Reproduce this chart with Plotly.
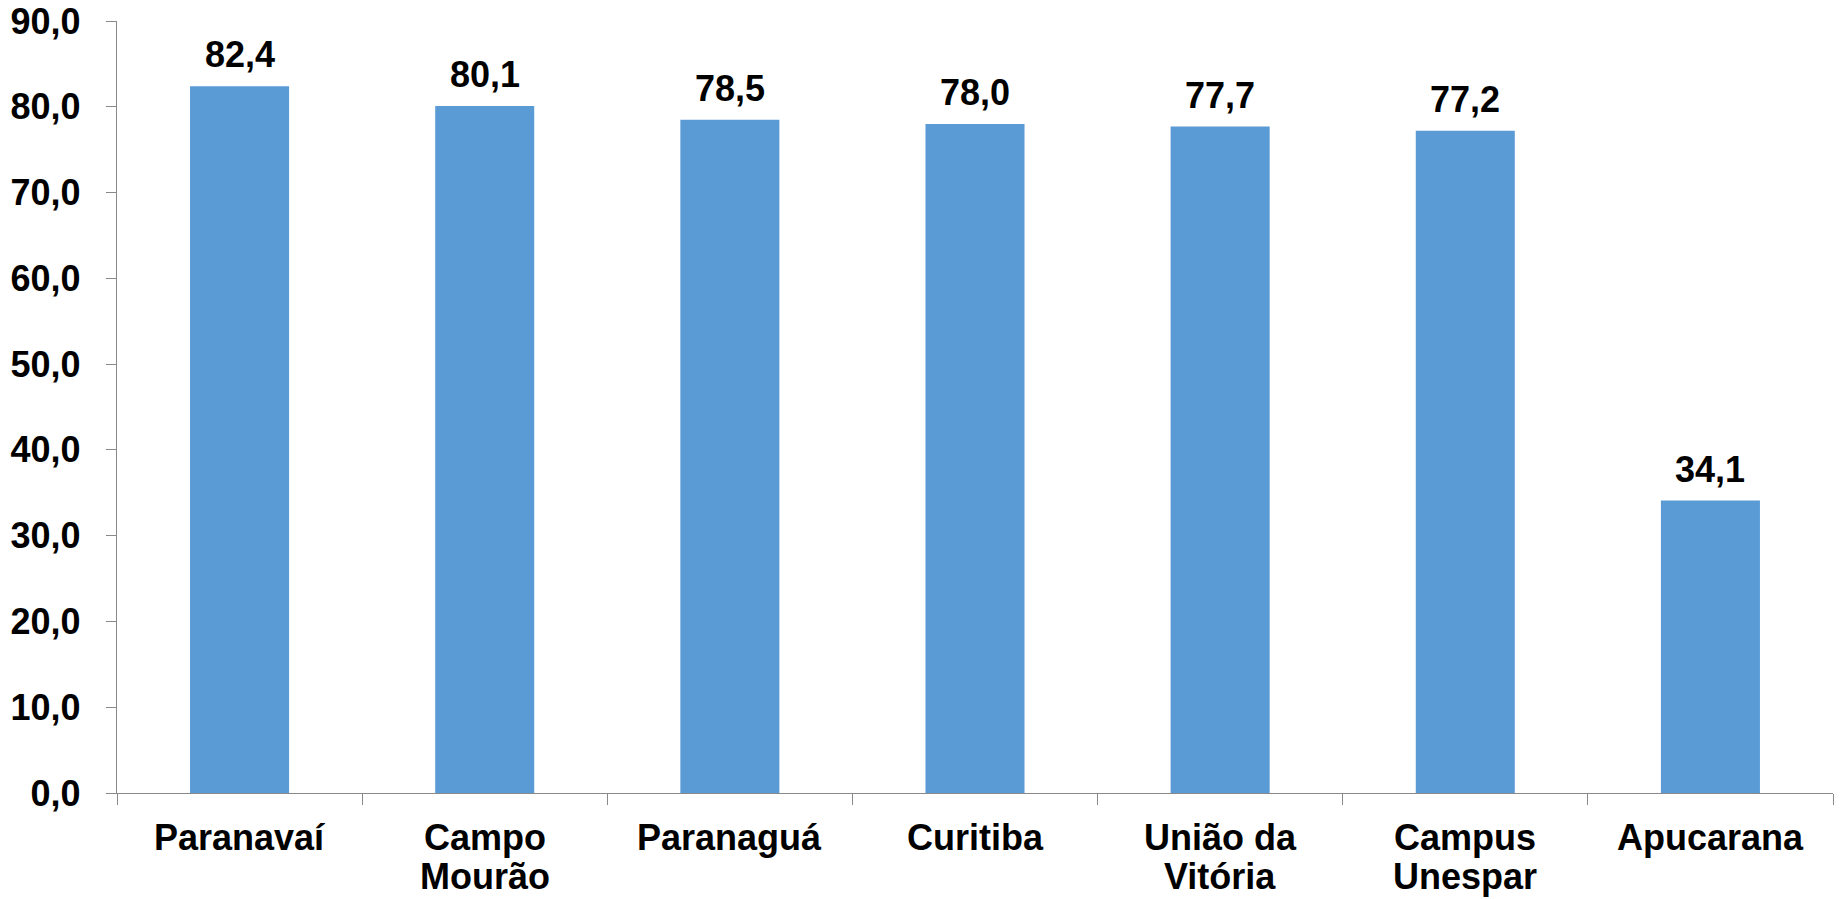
import plotly.graph_objects as go

categories = ["Paranavaí", "Campo\nMourão", "Paranaguá", "Curitiba",
              "União da\nVitória", "Campus\nUnespar", "Apucarana"]
values = [82.4, 80.1, 78.5, 78.0, 77.7, 77.2, 34.1]
y_ticks = [0, 10, 20, 30, 40, 50, 60, 70, 80, 90]

FONT = "Liberation Sans, Arial, sans-serif"
FS = 36
AXIS_COLOR = "#898989"
BAR_COLOR = "#5B9BD5"

fig = go.Figure()
fig.add_trace(go.Bar(
    x=categories, y=values,
    marker=dict(color=BAR_COLOR, line=dict(width=0)),
    hoverinfo="skip",
))

# value labels above bars
for c, v in zip(categories, values):
    fig.add_annotation(
        x=c, y=v, text=f"<b>{v:.1f}</b>".replace(".", ","),
        showarrow=False, yanchor="bottom", yshift=9,
        font=dict(family=FONT, size=FS, color="black"),
    )

# category labels (one annotation per text line for tighter line spacing)
LINE_GAP = 39
for c in categories:
    for i, line in enumerate(c.split("\n")):
        fig.add_annotation(
            x=c, xref="x", y=0, yref="paper", text=f"<b>{line}</b>",
            showarrow=False, yanchor="top", xanchor="center",
            yshift=-22 - i * LINE_GAP,
            font=dict(family=FONT, size=FS, color="black"),
        )

fig.update_layout(
    width=1840, height=899,
    margin=dict(l=117, r=7, t=21, b=106, pad=0),
    paper_bgcolor="white", plot_bgcolor="white",
    separators=",.",
    showlegend=False,
    bargap=0.596,
    font=dict(family=FONT, size=FS, color="black"),
)
fig.update_xaxes(
    type="category",
    tickson="boundaries",
    showticklabels=False,
    automargin=False,
    showline=True, linecolor=AXIS_COLOR, linewidth=1.3,
    ticks="outside", ticklen=11, tickcolor=AXIS_COLOR, tickwidth=1.3,
    showgrid=False, zeroline=False,
)
fig.update_yaxes(
    range=[0, 90],
    tickvals=y_ticks, tickformat=".1f",
    automargin=False,
    ticklabeloverflow="allow",
    showline=True, linecolor=AXIS_COLOR, linewidth=1.3,
    ticks="outside", ticklen=10, tickcolor=AXIS_COLOR, tickwidth=1.3,
    tickfont=dict(family=FONT, size=FS, color="black", weight="bold"),
    ticklabelstandoff=18,
    showgrid=False, zeroline=False,
)

# remove the default 8px page margin so the figure fills the window exactly
fig.write_html(
    "out.html",
    config={"displayModeBar": False},
    post_script="document.body.style.margin='0';document.body.style.overflow='hidden';",
)
